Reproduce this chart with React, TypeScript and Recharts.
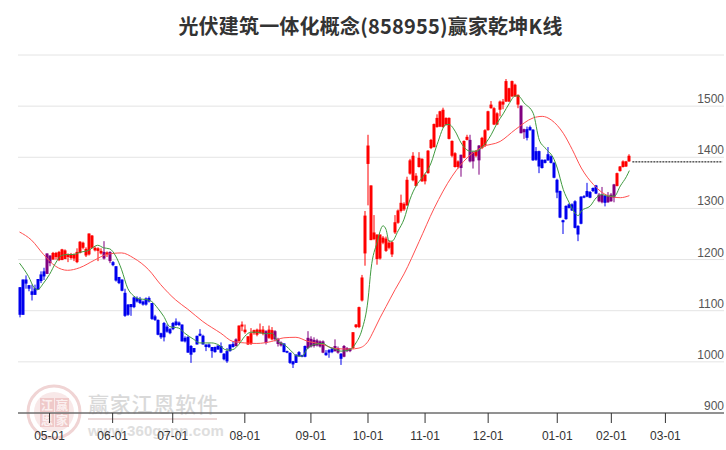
import React from 'react';
import { ComposedChart, Bar, Line, XAxis, YAxis, CartesianGrid, ReferenceLine } from 'recharts';

const TITLE = '光伏建筑一体化概念(858955)赢家乾坤K线';
const SLOT_COUNT = 235;

const bodyHigh = [
  1146,1161,1161,1150,1138,1144,1162,1171,1177,1212,
  1208,1213,1213,1215,1220,1218,1210,1210,1210,1215,
  1235,1233,1221,1251,1247,1223,1222,1217,1215,1214,
  1215,1195,1187,1166,1161,1135,1112,1113,1126,1125,
  1123,1118,1124,1125,1115,1089,1082,1056,1076,1069,
  1064,1076,1079,1077,1073,1047,1049,1031,1027,1051,
  1055,1051,1034,1034,1029,1029,1032,1031,1016,1021,
  1034,1035,1044,1071,1073,1063,1050,1056,1062,1063,
  1063,1063,1060,1063,1062,1060,1045,1038,1036,1021,
  1018,1001,1014,1019,1013,1031,1047,1045,1043,1042,
  1040,1040,1018,1023,1026,1031,1027,1016,1031,1027,
  1026,1058,1073,1107,1165,1286,1423,1345,1253,1249,
  1249,1243,1241,1233,1234,1273,1296,1311,1309,1356,
  1394,1403,1364,1399,1397,1366,1413,1434,1465,1477,
  1490,1493,1477,1477,1432,1408,1392,1405,1432,1440,
  1434,1410,1412,1423,1438,1453,1490,1503,1496,1486,
  1509,1509,1549,1535,1549,1542,1522,1501,1455,1455,
  1459,1454,1412,1412,1395,1395,1406,1402,1389,1356,
  1334,1277,1305,1308,1308,1314,1266,1323,1324,1334,
  1332,1340,1345,1327,1327,1325,1324,1327,1347,1369,
  1382,1392,1392,1403,
];
const bodyLow = [
  1092,1092,1153,1143,1131,1131,1141,1158,1167,1172,
  1193,1200,1205,1199,1199,1201,1205,1203,1202,1195,
  1213,1223,1208,1210,1223,1218,1217,1212,1202,1210,
  1197,1189,1159,1154,1139,1090,1092,1107,1107,1118,
  1115,1112,1112,1118,1084,1082,1053,1048,1048,1059,
  1056,1064,1072,1072,1040,1040,1018,1014,1019,1034,
  1051,1034,1029,1029,1021,1019,1024,1018,1005,1001,
  1021,1029,1031,1040,1069,1058,1034,1035,1056,1053,
  1056,1055,1037,1047,1044,1044,1035,1032,1019,1018,
  998,995,998,1011,1010,1010,1027,1030,1031,1032,
  1030,1018,1013,1018,1019,1021,1018,1006,1010,1021,
  1021,1027,1068,1068,1120,1212,1387,1238,1240,1201,
  1202,1233,1217,1223,1210,1253,1272,1295,1298,1306,
  1368,1355,1344,1381,1353,1353,1369,1418,1420,1459,
  1460,1459,1464,1436,1403,1381,1381,1379,1399,1434,
  1392,1392,1403,1394,1418,1423,1453,1496,1464,1464,
  1493,1503,1509,1509,1519,1519,1503,1447,1449,1438,
  1453,1394,1395,1382,1379,1389,1394,1389,1360,1331,
  1282,1273,1279,1301,1296,1262,1249,1270,1322,1323,
  1321,1334,1329,1314,1312,1311,1312,1314,1321,1344,
  1373,1381,1382,1392,
];
const wickHigh = [
  1146,1161,1169,1150,1151,1151,1162,1177,1184,1212,
  1208,1215,1215,1217,1221,1220,1212,1213,1212,1222,
  1236,1235,1224,1251,1248,1226,1224,1222,1236,1216,
  1216,1197,1187,1166,1161,1143,1113,1113,1128,1128,
  1127,1120,1126,1128,1115,1092,1083,1057,1078,1073,
  1066,1078,1085,1079,1073,1050,1050,1033,1027,1051,
  1064,1053,1034,1036,1029,1030,1032,1038,1017,1027,
  1034,1040,1046,1071,1079,1073,1050,1066,1063,1065,
  1075,1070,1062,1071,1068,1062,1047,1040,1036,1022,
  1018,1002,1015,1021,1014,1032,1060,1050,1048,1045,
  1042,1042,1023,1025,1028,1044,1030,1017,1033,1029,
  1027,1058,1074,1108,1170,1295,1444,1345,1287,1249,
  1249,1246,1245,1238,1236,1287,1298,1327,1312,1362,
  1397,1410,1369,1410,1398,1368,1414,1436,1466,1484,
  1491,1497,1478,1478,1433,1410,1394,1405,1433,1444,
  1444,1412,1414,1424,1440,1455,1491,1510,1498,1488,
  1511,1514,1553,1536,1550,1544,1523,1501,1456,1460,
  1462,1455,1420,1413,1396,1396,1420,1404,1391,1358,
  1335,1278,1306,1310,1310,1316,1267,1324,1326,1350,
  1334,1341,1346,1330,1342,1326,1332,1330,1348,1370,
  1383,1394,1393,1406,
];
const wickLow = [
  1087,1092,1143,1138,1120,1131,1141,1154,1160,1172,
  1187,1200,1200,1197,1199,1201,1195,1200,1197,1193,
  1212,1220,1205,1208,1222,1216,1197,1210,1200,1205,
  1193,1187,1157,1152,1138,1088,1090,1090,1105,1116,
  1113,1110,1110,1116,1082,1080,1052,1045,1040,1057,
  1054,1062,1070,1070,1040,1038,1018,998,1018,1034,
  1050,1034,1021,1027,1008,1018,1024,1017,1003,998,
  1020,1028,1030,1040,1060,1055,1033,1033,1053,1050,
  1055,1052,1034,1045,1042,1040,1030,1030,1019,1017,
  996,988,998,1010,1009,1009,1025,1028,1028,1030,
  1028,1017,1012,1008,1017,1020,1016,994,1009,1019,
  1019,1025,1066,1066,1118,1188,1306,1238,1238,1190,
  1200,1230,1215,1220,1205,1250,1270,1292,1295,1305,
  1366,1353,1343,1380,1352,1347,1368,1416,1419,1458,
  1459,1458,1462,1435,1400,1380,1378,1362,1398,1433,
  1390,1378,1400,1366,1416,1420,1452,1495,1463,1463,
  1480,1494,1508,1508,1518,1518,1496,1447,1436,1433,
  1452,1393,1393,1369,1378,1388,1393,1388,1359,1320,
  1281,1250,1278,1300,1295,1261,1236,1269,1320,1322,
  1320,1332,1328,1312,1310,1304,1311,1313,1312,1343,
  1372,1380,1381,1391,
];
const trend = [
  'bbbbbbbbbp','prrrrrrrrr','rrrrrrrrpr','pbbbbbbbbb','bbbbbbbbbb','bbbbbbbbbb','bbbbbbbbbb',
  'bbprrrrrrr','rrprrpppbb','bbbbbbpppp','ppbbbppbpp','prrrrrrrrr','rrrrrrrrrr','rrrrrrrrrr',
  'rrrrrrrprr','pprprrrrrr','rrrrrrrppb','bbbbbbbbbb','bbbbbbbbbb','bbbppbpppr','rrrr',
].join('');

const fastSlots = [0,3,5,6,8,10,12,14,16,18,20,23,26,28,30,32,34,36,38,40,42,44,46,48,50,53,55,58,60,62,64,66,69,71,73,75,77,79,82,84,86,88,91,92,94,96,99,101,103,105,107,110,112,114,116,117,119,121,122,123,124,126,128,130,132,134,137,139,142,143,145,147,150,152,154,157,159,161,163,165,166,168,171,173,175,178,179,181,183,185,186,187,190,192,194,196,198,200,202,203];
const fastValues = [1193,1167,1144,1141,1154,1171,1193,1208,1210,1210,1214,1218,1228,1223,1221,1207,1180,1144,1129,1123,1122,1118,1105,1089,1069,1066,1056,1044,1037,1037,1037,1034,1023,1024,1034,1050,1058,1058,1055,1056,1040,1034,1018,1012,1011,1027,1035,1036,1029,1025,1021,1024,1037,1063,1121,1181,1233,1266,1259,1236,1236,1256,1279,1318,1344,1360,1389,1425,1464,1464,1451,1428,1412,1412,1420,1444,1467,1485,1505,1520,1520,1506,1486,1434,1418,1395,1379,1337,1311,1290,1286,1295,1305,1321,1327,1324,1324,1344,1362,1374];
const slowSlots = [0,4,8,12,16,20,25,29,34,38,43,47,52,56,61,67,71,75,79,84,88,92,96,101,105,110,113,116,118,120,122,125,128,133,138,144,149,154,160,165,171,174,177,181,184,187,191,194,197,200,203];
const slowValues = [1254,1238,1210,1187,1179,1184,1199,1210,1213,1203,1180,1151,1121,1103,1079,1056,1040,1037,1036,1040,1047,1048,1040,1034,1026,1025,1027,1040,1062,1086,1108,1141,1172,1235,1300,1363,1399,1420,1431,1454,1477,1480,1473,1447,1415,1379,1347,1331,1323,1321,1325];

const xTickSlots = [10,31,51,75,97,116,135,156,179,197,215];
const xTickLabels = ['05-01','06-01','07-01','08-01','09-01','10-01','11-01','12-01','01-01','02-01','03-01'];
const yTicks = [900,1000,1100,1200,1300,1400,1500,1600];
const yLabels = [900,1000,1100,1200,1300,1400,1500];
const lastPrice = 1391;
const lastSlot = 204;

const trendColors: Record<string, string> = { r: '#ff0000', b: '#0000ee', p: '#800080' };

const rows = Array.from({ length: SLOT_COUNT }, (_, slot) => {
  const row: any = { slot };
  if (slot < bodyHigh.length) {
    row.range = [wickLow[slot], wickHigh[slot]];
    row.bodyHigh = bodyHigh[slot];
    row.bodyLow = bodyLow[slot];
    row.wickHigh = wickHigh[slot];
    row.wickLow = wickLow[slot];
    row.trend = trend[slot];
  }
  return row;
});
fastSlots.forEach((s, i) => { rows[s].fast = fastValues[i]; });
slowSlots.forEach((s, i) => { rows[s].slow = slowValues[i]; });

const Candle = (props: any) => {
  const { x, y, width, height, payload } = props;
  if (!payload || payload.range == null || height == null) return <g />;
  const top = Math.min(y, y + height);
  const h = Math.abs(height);
  const span = payload.wickHigh - payload.wickLow || 1;
  const p = h / span;
  const cx = x + width / 2;
  const bodyTop = top + (payload.wickHigh - payload.bodyHigh) * p;
  const bodyH = Math.max(1.5, (payload.bodyHigh - payload.bodyLow) * p);
  const color = trendColors[payload.trend];
  return (
    <g>
      <rect x={Math.round(cx) - 0.5} y={top} width={1} height={Math.max(h, 1)} fill={color} />
      <rect x={Math.round(cx) - 1.5} y={bodyTop} width={3} height={bodyH} fill={color} />
    </g>
  );
};

const XTick = (props: any) => {
  const { x, payload } = props;
  const label = xTickLabels[xTickSlots.indexOf(payload.value)];
  return (
    <g>
      <line x1={x} x2={x} y1={413} y2={423} stroke="#333" />
      <text x={x} y={440} textAnchor="middle" fontFamily="'Liberation Sans', Arial, sans-serif" fontSize={12} fill="#333">{label}</text>
    </g>
  );
};

const YTick = (props: any) => {
  const { y, payload } = props;
  if (!yLabels.includes(payload.value)) return <g />;
  return (
    <text x={724} y={y - 3} textAnchor="end" fontFamily="'Liberation Sans', Arial, sans-serif" fontSize={12} fill="#555">{payload.value}</text>
  );
};

const Watermark = () => (
  <svg width={726} height={450} style={{ position: 'absolute', left: 0, top: 0 }}>
    <circle cx={54} cy={412} r={26} fill="none" stroke="#f0d4d4" strokeWidth={3} />
    <circle cx={54} cy={412} r={20} fill="#f8e8e8" stroke="none" />
    <g>
      <rect x={40} y={398} width={14} height={14} fill="#efc9c9" />
      <rect x={55} y={398} width={14} height={14} fill="#efc9c9" />
      <rect x={40} y={413} width={14} height={14} fill="#efc9c9" />
      <rect x={55} y={413} width={14} height={14} fill="#efc9c9" />
    </g>
    <g fontFamily="'Noto Sans CJK SC', sans-serif" fontWeight="700" fontSize={12} fill="#fbf0f0" textAnchor="middle">
      <text x={47} y={410}>江</text>
      <text x={62} y={410}>赢</text>
      <text x={47} y={425}>恩</text>
      <text x={62} y={425}>家</text>
    </g>
    <text x={88} y={412} fontFamily="'Noto Sans CJK SC', sans-serif" fontWeight="500" fontSize={21} fill="#d9d9d9" letterSpacing={0.8}>赢家江恩软件</text>
    <rect x={88} y={418} width={129} height={2} fill="#ecd9d9" />
    <text x={88} y={436} fontFamily="'Liberation Sans', Arial, sans-serif" fontWeight="700" fontSize={15} fill="#dedede" letterSpacing={0.1}>www.360gann.com</text>
  </svg>
);

export default function App() {
  return (
    <div style={{ position: 'absolute', left: 0, top: 0, width: 726, height: 450, background: '#fff', overflow: 'hidden' }}>
      <Watermark />
      <div style={{ position: 'absolute', left: 0, top: 12, width: 741, textAlign: 'center', fontFamily: "'Noto Sans CJK SC', sans-serif", fontWeight: 700, fontSize: 20, letterSpacing: 0.2, lineHeight: '28px', color: '#333' }}>{TITLE}</div>
      <div style={{ position: 'absolute', left: 0, top: 0 }}>
        <ComposedChart width={726} height={450} data={rows} margin={{ top: 55, right: 0, bottom: 7, left: 18 }} barCategoryGap={0}>
          <CartesianGrid vertical={false} stroke="#e4e4e4" strokeWidth={1} />
          <XAxis dataKey="slot" type="category" ticks={xTickSlots} interval={0} height={30} tick={XTick} tickLine={false} axisLine={{ stroke: '#333' }} padding={{ left: 0, right: 0 }} />
          <YAxis orientation="right" type="number" domain={[900, 1600]} ticks={yTicks} width={2} axisLine={false} tickLine={false} tick={YTick} interval={0} />
          <Bar dataKey="range" shape={Candle} isAnimationActive={false} />
          <Line dataKey="slow" type="monotone" connectNulls dot={false} stroke="#ff5050" strokeWidth={1} isAnimationActive={false} />
          <Line dataKey="fast" type="monotone" connectNulls dot={false} stroke="#3f9a3f" strokeWidth={1} isAnimationActive={false} />
          <ReferenceLine segment={[{ x: lastSlot, y: lastPrice }, { x: SLOT_COUNT - 1, y: lastPrice }]} stroke="#000" strokeWidth={1} strokeDasharray="2 1" />
        </ComposedChart>
      </div>
    </div>
  );
}
